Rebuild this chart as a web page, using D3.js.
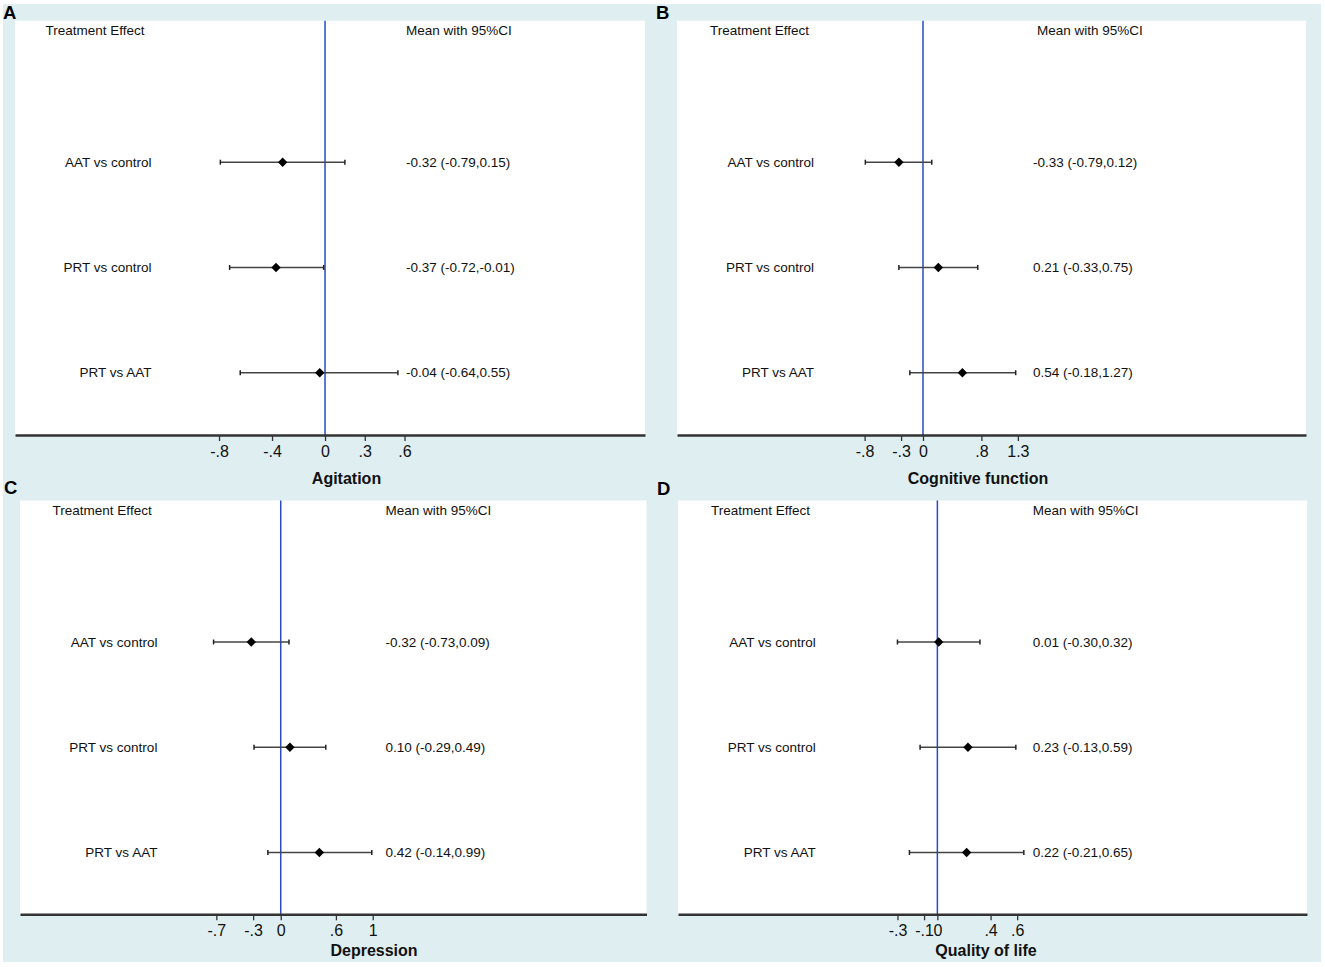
<!DOCTYPE html>
<html>
<head>
<meta charset="utf-8">
<script src="https://cdn.jsdelivr.net/npm/d3@7"></script>
<style>
  body { margin: 0; background: #fff; }
  svg { display: block; font-family: "Liberation Sans", Arial, sans-serif; }
</style>
</head>
<body>
<svg id="chart"></svg>
<script>
// data
const comparisons = ["AAT vs control", "PRT vs control", "PRT vs AAT"];
const outcomes = ["Agitation", "Cognitive function", "Depression", "Quality of life"];
const panelLetters = ["A", "B", "C", "D"];

const agitationMean = [-0.32, -0.37, -0.04];
const agitationLow = [-0.79, -0.72, -0.64];
const agitationHigh = [0.15, -0.01, 0.55];

const cognitiveMean = [-0.33, 0.21, 0.54];
const cognitiveLow = [-0.79, -0.33, -0.18];
const cognitiveHigh = [0.12, 0.75, 1.27];

const depressionMean = [-0.32, 0.1, 0.42];
const depressionLow = [-0.73, -0.29, -0.14];
const depressionHigh = [0.09, 0.49, 0.99];

const qolMean = [0.01, 0.23, 0.22];
const qolLow = [-0.3, -0.13, -0.21];
const qolHigh = [0.32, 0.59, 0.65];

const agitationTicks = [-0.8, -0.4, 0, 0.3, 0.6];
const cognitiveTicks = [-0.8, -0.3, 0, 0.8, 1.3];
const depressionTicks = [-0.7, -0.3, 0, 0.6, 1];
const qolTicks = [-0.3, -0.1, 0, 0.4, 0.6];

// x extent of each plot region (data units)
const agitationDomain = [-2.34, 2.415];
const cognitiveDomain = [-3.37, 5.247];
const depressionDomain = [-2.834, 3.976];
const qolDomain = [-1.95, 2.779];

const means = [agitationMean, cognitiveMean, depressionMean, qolMean];
const lows = [agitationLow, cognitiveLow, depressionLow, qolLow];
const highs = [agitationHigh, cognitiveHigh, depressionHigh, qolHigh];
const ticks = [agitationTicks, cognitiveTicks, depressionTicks, qolTicks];
const domains = [agitationDomain, cognitiveDomain, depressionDomain, qolDomain];

// layout (pixels) for each panel
const layout = [
  { x0: 15, x1: 645, top: 20.7, axisY: 435, headX: 45.5, labelX: 151.5, meanX: 406, valX: 406,
    titleX: 346.5, tickY: 451.5, titleY: 478, letterX: 3, letterY: 18.5 },
  { x0: 677, x1: 1306, top: 20.7, axisY: 435, headX: 710, labelX: 814, meanX: 1037, valX: 1033,
    titleX: 978, tickY: 451.5, titleY: 478, letterX: 656, letterY: 18.5 },
  { x0: 20, x1: 646.5, top: 500.5, axisY: 914.3, headX: 52.6, labelX: 157.4, meanX: 385.5, valX: 385.5,
    titleX: 374, tickY: 930.7, titleY: 950, letterX: 4, letterY: 494 },
  { x0: 678, x1: 1307, top: 500.5, axisY: 914.3, headX: 711, labelX: 815.7, meanX: 1032.8, valX: 1032.8,
    titleX: 986, tickY: 930.7, titleY: 950, letterX: 657, letterY: 495 }
];

const width = 1325;
const height = 967;

const svg = d3.select("#chart").attr("width", width).attr("height", height);

// light teal background
svg.append("rect")
  .attr("x", 3).attr("y", 4)
  .attr("width", 1318).attr("height", 958)
  .attr("fill", "#dfeef0");

const fmtTick = (d) => String(d).replace(/^(-?)0\./, "$1.");
const fmt2 = (d) => d.toFixed(2);

outcomes.forEach((title, p) => {
  const L = layout[p];
  const g = svg.append("g");

  // white plot region
  g.append("rect")
    .attr("x", L.x0).attr("y", L.top)
    .attr("width", L.x1 - L.x0).attr("height", L.axisY - L.top)
    .attr("fill", "#fff");

  const x = d3.scaleLinear().domain(domains[p]).range([L.x0, L.x1]);
  const y = d3.scalePoint()
    .domain(comparisons)
    .range([L.top + 141.5, L.top + 352]);

  // no-effect line
  g.append("line")
    .attr("x1", x(0)).attr("x2", x(0))
    .attr("y1", L.top).attr("y2", L.axisY)
    .attr("stroke", "#2a4cc0")
    .attr("stroke-width", 1.5);

  // axis
  const axis = g.append("g")
    .attr("transform", `translate(0,${L.axisY})`)
    .call(d3.axisBottom(x).tickValues(ticks[p]).tickFormat(fmtTick).tickSize(6).tickSizeOuter(0));
  axis.select(".domain").attr("stroke", "#333").attr("stroke-width", 2.4);
  axis.selectAll(".tick line").attr("stroke", "#333").attr("stroke-width", 1.3);
  axis.selectAll(".tick text")
    .attr("y", L.tickY - L.axisY)
    .attr("dy", "0.35em")
    .attr("fill", "#111")
    .style("font-size", "16px");
  axis.attr("font-family", null);

  // axis title
  g.append("text")
    .attr("x", L.titleX).attr("y", L.titleY)
    .attr("dy", "0.35em")
    .attr("text-anchor", "middle")
    .attr("font-weight", "bold")
    .attr("font-size", 16)
    .attr("fill", "#111")
    .text(title);

  // panel letter
  svg.append("text")
    .attr("x", L.letterX).attr("y", L.letterY)
    .attr("font-weight", "bold")
    .attr("font-size", 18.5)
    .attr("fill", "#000")
    .text(panelLetters[p]);

  // column headers
  g.append("text")
    .attr("x", L.headX).attr("y", L.top + 10)
    .attr("dy", "0.35em")
    .attr("font-size", 13.5)
    .attr("fill", "#111")
    .text("Treatment Effect");
  g.append("text")
    .attr("x", L.meanX).attr("y", L.top + 10)
    .attr("dy", "0.35em")
    .attr("font-size", 13.5)
    .attr("fill", "#111")
    .text("Mean with 95%CI");

  const rows = comparisons.map((c, i) => ({
    name: c, mean: means[p][i], lo: lows[p][i], hi: highs[p][i]
  }));

  const row = g.selectAll(".row").data(rows).enter().append("g").attr("class", "row");

  row.append("text")
    .attr("x", L.labelX).attr("y", (d) => y(d.name))
    .attr("dy", "0.35em")
    .attr("text-anchor", "end")
    .attr("font-size", 13.5)
    .attr("fill", "#111")
    .text((d) => d.name);

  row.append("line")
    .attr("x1", (d) => x(d.lo)).attr("x2", (d) => x(d.hi))
    .attr("y1", (d) => y(d.name)).attr("y2", (d) => y(d.name))
    .attr("stroke", "#444")
    .attr("stroke-width", 1.6);

  // end caps
  row.selectAll(".cap")
    .data((d) => [d.lo, d.hi].map((v) => ({ v: v, name: d.name })))
    .enter().append("line")
    .attr("x1", (d) => x(d.v)).attr("x2", (d) => x(d.v))
    .attr("y1", (d) => y(d.name) - 2.5).attr("y2", (d) => y(d.name) + 2.5)
    .attr("stroke", "#222")
    .attr("stroke-width", 1.5);

  // diamond at the mean
  row.append("path")
    .attr("d", (d) => {
      const cx = x(d.mean), cy = y(d.name), r = 4.7;
      return `M${cx},${cy - r}L${cx + r},${cy}L${cx},${cy + r}L${cx - r},${cy}Z`;
    })
    .attr("fill", "#000");

  row.append("text")
    .attr("x", L.valX).attr("y", (d) => y(d.name))
    .attr("dy", "0.35em")
    .attr("font-size", 13.5)
    .attr("fill", "#111")
    .text((d) => `${fmt2(d.mean)} (${fmt2(d.lo)},${fmt2(d.hi)})`);
});
</script>
</body>
</html>
